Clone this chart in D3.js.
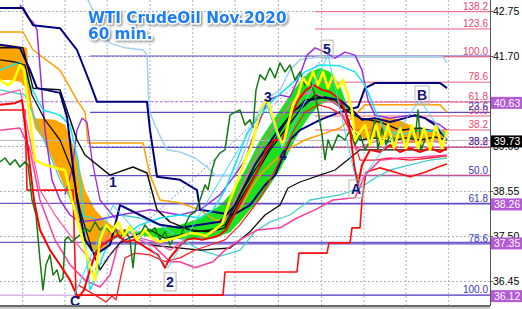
<!DOCTYPE html>
<html>
<head>
<meta charset="utf-8">
<script src="https://cdn.jsdelivr.net/npm/d3@7"></script>
<style>
  body { margin: 0; background: #fff; }
  svg { display: block; font-family: "Liberation Sans", Arial, sans-serif; }
</style>
</head>
<body>
<div id="root"></div>
<script>
// Chart data: bar index (60 min bars) and price.
const priceTicks = [42.75, 41.70, 40.65, 39.60, 38.55, 37.50, 36.45];
const gridBars = [5.7, 16.25, 26.8, 37.5, 48.2, 58.75, 69.6, 80.4, 91, 101.5, 112.1];

// Ichimoku cloud: senkou span A / span B at the same bars.
const cloudBars = [0, 2.5, 5, 6.75, 7.75, 8.75, 11.25, 13.75, 16.25, 18.75, 21.25, 23.75, 26.25, 28.75, 31.25, 33.75, 36.25, 40, 43.75, 47.5, 50, 52.5, 55, 57.5, 60, 62.5, 65, 67.5, 70, 72.5, 75, 77.5, 80, 82.5, 85, 87, 88.75, 91.25, 95, 98.75, 102.5, 105, 108.75, 111.25];
const spanA = [41.14, 41.14, 41.10, 40.95, 40.44, 40.02, 39.70, 39.16, 38.62, 38.06, 37.36, 37.13, 37.17, 37.45, 37.50, 37.59, 37.64, 37.69, 37.73, 37.83, 37.92, 38.06, 38.22, 38.46, 38.81, 39.27, 39.74, 40.09, 40.44, 40.79, 41.10, 41.33, 41.42, 41.33, 41.02, 40.49, 39.97, 39.74, 39.79, 39.74, 39.67, 39.67, 39.70, 39.74];
const spanB = [41.96, 41.96, 41.93, 41.89, 40.67, 40.25, 40.23, 40.21, 40.09, 39.51, 38.57, 38.11, 37.87, 37.69, 37.59, 37.55, 37.50, 37.45, 37.45, 37.41, 37.41, 37.45, 37.50, 37.59, 37.83, 38.11, 38.34, 38.69, 39.04, 39.51, 39.97, 40.32, 40.56, 40.67, 40.56, 40.44, 40.28, 40.25, 40.25, 40.25, 40.09, 39.97, 39.97, 39.97];

const chikou = [[0,39.23],[1.25,39.32],[2.5,39.16],[3.75,39.28],[5,39.11],[6.25,39.23],[7,39.16],[8,38.34],[9,37.99],[10,36.94],[10.75,36.24],[11.5,36.83],[12.5,37.06],[13.25,36.59],[14.25,36.71],[15,36.43],[15.75,36.52],[16.25,37.41],[17,37.48],[18,37.36],[19,37.45],[20,37.52],[21.25,37.69],[22.5,37.60],[23.75,37.83],[25,37.64],[26.25,37.73],[27.5,37.60],[28.75,37.69],[30,37.45],[31.25,37.64],[32.5,37.41],[33.25,36.76],[34,37.41],[35,37.52],[36.25,37.76],[37.5,37.60],[38.75,37.69],[40,37.41],[41.25,37.60],[42.5,37.29],[43.75,37.52],[45,37.45],[46.25,37.76],[47.5,37.99],[48.75,38.06],[50,38.34],[51.25,38.69],[52,38.58],[53,39.04],[53.75,39.28],[55,39.44],[56.25,39.51],[57.5,40.32],[58.75,40.39],[60,40.44],[61.25,40.09],[62.5,40.21],[63.25,40.04],[64,40.91],[65,41.26],[66.25,41.14],[67.5,41.42],[68.75,41.19],[70,41.54],[71.25,41.33],[72.5,41.49],[73.75,41.14],[75,41.33],[76.25,41.02],[77.5,41.14],[78.75,40.79],[79.5,40.44],[80.5,39.86],[81.25,39.28],[82,39.74],[83,39.51],[84.5,39.86],[86.25,39.74],[87.5,39.98],[88.75,39.62],[90,39.86],[91.25,39.51],[92.5,39.70],[93.75,40.21],[94.5,39.51],[95.5,40.02],[96.5,39.62],[97.5,39.86],[98.75,39.74],[100,39.90],[101.25,39.62],[102.5,39.86],[103.75,39.74],[104.5,40.44],[105.25,39.51],[106.25,39.74]];

const yellowLine = [[0,41.14],[2,41.02],[3.5,41.14],[5,41.49],[6,41.37],[7.5,40.21],[8.75,39.27],[11.25,39.16],[13.75,39.09],[16.25,39.04],[18,38.34],[20,37.64],[22,36.94],[23.75,36.47],[25,37.41],[26.5,37.76],[28,37.60],[29.5,37.83],[31,37.50],[32.5,37.73],[34.25,37.41],[36.25,37.64],[38,37.45],[40,37.36],[42,37.41],[43.75,37.45],[45.5,37.50],[47.5,37.57],[49.5,37.55],[51.5,37.50],[53.5,37.64],[55.5,37.78],[57.5,38.34],[59.5,38.81],[61.25,39.27],[63,39.62],[64.5,40.21],[65.75,40.56],[67,40.67],[68,40.32],[69.5,39.86],[70.75,39.62],[72,40.09],[73.25,40.56],[74.5,40.79],[75.75,41.19],[77,41.02],[78.25,41.33],[79.5,41.02],[80.75,41.33],[82,40.95],[83.25,41.26],[84.5,40.95],[85.75,41.14],[87,40.79],[88,40.44],[88.75,39.74],[89.5,39.86],[91.25,40.09],[92.5,39.62],[94,40.09],[95.5,39.62],[97,40.09],[98.5,39.55],[100,40.02],[101.5,39.55],[103,40.09],[104.5,39.55],[106,40.02],[107.5,39.51],[109,40.09],[110.5,39.55],[111.75,39.97]];

const redFast = [[0,40.56],[3.75,40.60],[5.5,40.67],[7,39.51],[8.5,38.34],[10,37.64],[12.5,37.17],[15,36.83],[17.5,36.47],[19.5,36.05],[21,36.24],[22.5,36.71],[24,37.13],[25.5,37.29],[27.5,37.41],[29.5,37.52],[31.5,37.36],[33.5,37.41],[35.5,37.29],[37.5,37.17],[39.5,37.06],[41.25,36.76],[42.5,36.99],[44.5,37.22],[46.5,37.41],[48.5,37.45],[50.5,37.41],[52.5,37.45],[54.5,37.50],[56.5,37.64],[58.5,37.99],[60.5,38.34],[62.5,38.69],[64.5,39.04],[66.5,39.51],[68.5,39.74],[70.5,39.74],[72.5,40.21],[74.5,40.67],[76.5,40.91],[78.5,41.02],[80.5,40.91],[82.5,40.86],[84.5,40.72],[86.25,40.44],[87.5,39.97],[88.5,39.16],[89.5,38.69],[90.5,39.16],[92.5,39.51],[95,39.46],[97.5,39.62],[100,39.46],[102.5,39.55],[105,39.46],[107.5,39.55],[110,39.46],[111.75,39.55]];

const redBand = [[19.5,36.36],[22.5,36.19],[25,36.05],[26.5,35.96],[28,36.10],[29,36.01],[30,36.47],[31.25,36.99],[33.75,37.10],[37.5,37.06],[41.25,36.90],[45,36.99],[48.75,37.17],[52.5,37.29],[56.25,37.41],[60,37.76],[63.75,38.22],[66.25,38.57],[68.75,39.04],[71.25,39.51],[73.75,40.02],[76.25,40.39],[79.5,40.56],[82.5,40.49],[85.5,40.32],[88,39.86],[90,39.27],[93.75,39.27],[97.5,39.32],[102.5,39.27],[107.5,39.32],[111.75,39.37]];

const redLow = [[0,40.44],[6.25,40.44],[6.75,38.57],[18.25,38.57],[19,36.12],[55.75,36.12],[56.25,36.66],[74.25,36.66],[74.75,37.10],[81.75,37.10],[82.25,37.34],[87.5,37.34],[88,37.69],[90,37.69],[90.5,38.34],[91.5,38.99],[95,39.09],[98.75,38.99],[102.5,38.88],[106.25,38.99],[110,39.13],[111.75,39.18]];

const pinkSlow = [[0,39.97],[5,40.02],[7.5,39.51],[10,38.34],[13.75,37.41],[17.5,36.83],[21.25,36.47],[25,36.31],[27.5,36.59],[29.5,37.29],[31.5,37.52],[35,37.41],[38.75,37.24],[42.5,36.90],[45,36.90],[48.75,36.76],[53.25,36.90],[56.25,37.17],[60,37.41],[64.25,37.64],[70,37.69],[74.25,37.92],[78.75,38.11],[83.25,38.34],[88.75,38.39],[91.25,38.92],[95,39.27],[100,39.32],[105,39.34],[111.75,39.39]];

const pinkFast = [[0,40.79],[5,40.91],[7.5,39.74],[10,38.57],[13.75,37.99],[17.5,37.52],[20.5,37.17],[23,36.90],[25,37.17],[27.5,37.60],[31.25,37.64],[35,37.45],[38.75,37.36],[42.5,37.17],[46.25,37.41],[50,37.45],[53.75,37.60],[57,37.99],[60,38.57],[63,39.16],[66.25,39.74],[69.5,40.21],[72.5,40.56],[75,40.79],[78,40.86],[81.25,40.72],[84.5,40.56],[87,40.09],[89,39.51],[91.25,39.62],[95,39.74],[100,39.67],[105,39.74],[111.75,39.67]];

const cyanLine = [[0,41.37],[5,41.56],[7.5,41.02],[10.75,40.44],[15,40.32],[17.5,40.09],[19.5,39.27],[20.75,38.11],[21.75,36.94],[22.5,36.24],[23.75,36.47],[25.5,36.99],[27.5,37.41],[31.25,37.52],[35,37.76],[40,37.92],[45,37.99],[50,37.92],[53.25,38.11],[56.25,38.57],[59.25,39.27],[61.75,39.90],[65,40.32],[68.25,40.67],[72.5,41.02],[76.25,41.33],[80,41.49],[85,41.47],[88.75,41.33],[91.25,41.02],[93.75,40.44],[96.25,39.97],[100,39.86],[105,39.97],[110,39.93],[111.75,39.86]];

const turquoise = [[0,40.91],[6.25,40.79],[10,39.97],[15,38.81],[20,37.99],[25,37.87],[30,37.99],[35,37.92],[40,37.76],[45,37.45],[50,37.17],[55,37.03],[60,37.17],[63.75,37.60],[67.5,37.83],[72.5,37.99],[77.5,38.34],[85,38.46],[90,38.62],[93.75,38.85],[97.5,39.04],[102.5,39.16],[107.5,39.27],[111.75,39.32]];

const lightBlue = [[20,43.24],[22,43.01],[25,42.42],[27.5,42.00],[31.25,41.89],[35.75,41.84],[36.75,41.72],[37.25,40.44],[38.75,40.09],[40.5,39.74],[41.75,39.51],[45,39.46],[48.75,39.32],[51.75,39.11],[53.75,38.92],[58.75,38.92],[61.25,39.51],[63.75,40.21],[66.25,40.67],[70,40.91],[72.5,41.37],[75,41.61],[80,41.68],[110.75,41.68],[111.75,41.54]];

const navyUpper = [[0,42.82],[5.75,42.82],[8.25,42.42],[15,42.35],[19.25,41.84],[22.5,41.07],[24.25,40.63],[36.75,40.63],[37.5,39.97],[39.25,38.88],[45,38.81],[49.25,38.57],[50,38.11],[58.25,37.99],[62.5,38.22],[66.25,38.69],[68.75,38.92],[72.5,39.74],[75,39.97],[80,40.21],[85,40.39],[89.5,40.51],[91.25,40.95],[93.75,41.07],[110,41.07],[111.75,40.95]];

const navyInner = [[0,41.96],[5,41.89],[7.5,41.37],[9.25,40.95],[15,40.84],[16.75,40.28],[19.25,38.34],[21.25,37.41],[23.75,37.06],[27.5,37.29],[30,38.22],[35,37.99],[40,37.76],[45,37.69],[50,37.76],[55,37.83],[58.75,38.22],[61.25,38.69],[63.75,39.16],[66.25,39.51],[68.75,39.86],[70.75,40.09],[73.75,40.44],[77.5,40.67],[81.25,40.74],[85,40.67],[88,40.44],[90.5,40.21],[93.75,40.25],[97.5,40.16],[101.25,40.25],[103.75,40.32],[106.25,40.25],[108.75,40.09],[111.75,39.74]];

const blackSlow = [[0,41.89],[5.75,41.89],[8.25,40.95],[15,40.91],[19.25,39.74],[21.25,39.39],[27.5,38.92],[33.25,39.11],[36.75,38.97],[39.25,38.11],[42.5,37.83],[47.5,37.64],[52.5,37.60],[56.25,37.69],[60,38.34],[63.75,38.92],[67.5,39.51],[71.25,39.97],[75,40.44],[78.75,40.79],[82.5,40.67],[86.25,40.44],[90,40.25],[95,40.16],[100,39.97],[105,40.02],[111.75,39.86]];

const blackFast = [[0,41.61],[3.75,41.56],[6.25,41.49],[8,40.79],[11.25,40.21],[15,39.74],[18,39.04],[20,38.11],[23,37.17],[25,36.71],[27.5,37.06],[30,37.34],[33.75,37.52],[37.5,37.64],[41.25,37.45],[45,37.52],[48.75,37.60],[52.5,37.64],[56.25,37.76],[60,38.46],[63.75,39.04],[66.25,39.39],[68.75,39.74],[72.5,40.32],[76.25,40.67],[80,40.74],[83.75,40.67],[86.25,40.44],[87.5,40.09],[90,39.74],[93.75,39.79],[97.5,39.70],[101.25,39.79],[105,39.74],[108.75,39.81],[111.75,39.74]];

const blackLow = [[37.5,37.29],[50,37.17],[57.5,37.22],[62.5,37.60],[66.25,37.99],[70,38.22],[72,38.62],[75,38.76],[80,38.92],[83.75,39.04],[87.5,39.32],[90,39.51],[111.75,39.51]];

const purpleLine = [[5,42.89],[7,42.59],[8.25,42.49],[9.25,42.31],[10.25,41.14],[11.25,39.97],[13,38.81],[15,38.34],[17.5,37.99],[20,37.83],[23.75,37.87],[30,37.99],[37.5,38.11],[45,37.99],[50,38.11],[55,38.46],[58.75,38.92],[61.25,39.27],[63,39.74],[65,40.21],[67,40.67],[70,40.79],[72.5,40.74],[75,41.26],[76.75,41.72],[78.75,41.89],[81.25,41.79],[83.75,41.65],[86.25,41.79],[88.75,41.72],[90.5,41.37],[92,40.67],[93.75,40.32],[97.5,40.25],[102.5,40.32],[106.25,40.25],[110,40.09],[111.75,39.97]];

const purpleHump = [[16.25,38.46],[18,39.04],[19.25,39.97],[20.5,40.25],[21.75,40.16],[23,39.27],[25,38.34],[28.75,37.92]];

const orangeLine = [[0,42.26],[5.75,42.26],[8.25,41.84],[15,41.37],[19.25,40.67],[21.25,40.39],[22,39.67],[35.75,39.67],[37.5,38.92],[40,38.34],[45,38.27],[50,38.11],[53.75,37.87],[57.5,37.87],[60,38.11],[62.5,38.57],[65,38.92],[68.75,39.27],[72.5,39.55],[76.25,39.74],[80,39.86],[85,40.02],[88.75,40.32],[91.25,40.56],[110,40.56],[111.25,40.44],[111.75,40.39]];

// Elliott wave zigzag and labels
const waveNames = ['C', '1', '2', '3', '4', '5', 'A', 'B'];
const wavePoints = [[18.25,36.05],[28.25,38.22],[42,36.76],[66.5,40.60],[70.5,39.55],[82,41.72],[89.25,38.69],[105,40.67],[111.75,39.74]];
const waveLabelAt = [[18.75,35.98],[28.25,38.76],[42.5,36.43],[67,40.74],[70.75,39.39],[81.75,41.86],[89,38.60],[105.5,40.79]];
const waveBoxed = ['2', '5', 'A', 'B'];
const trendLine = [[20,36.40],[82.5,41.77]];

// Fibonacci retracements: two sets
const fibRatios = [138.2, 123.6, 100.0, 78.6, 61.8, 50.0, 38.2, 23.6];
const fibUpper = { p100: 41.68, p0: 38.92, fromBar: 78.75 };
const fibLowerRatios = [23.6, 38.2, 50.0, 61.8, 78.6, 100.0];
const fibLower = { p0: 41.70, p100: 36.12, fromBar: 22.5 };

// Price markers on the right scale
const markerPrices = [40.63, 39.73, 38.26, 37.35, 36.12];
const markerFills = ['#b45ad6', '#000000', '#b45ad6', '#b45ad6', '#b45ad6'];
const currentPrice = 39.73;

const width = 522, height = 309;
const plotRight = 490, plotBottom = 306;

const x = d3.scaleLinear().domain([0, 122.5]).range([0, plotRight]);
const y = d3.scaleLinear().domain([36.45, 42.75]).range([281, 11]);

const svg = d3.select('#root').append('svg')
  .attr('width', width)
  .attr('height', height);

const defs = svg.append('defs');
defs.append('clipPath').attr('id', 'plot')
  .append('rect').attr('x', 0).attr('y', 0).attr('width', plotRight).attr('height', plotBottom);
const shadow = defs.append('filter').attr('id', 'shadow').attr('x', '-10%').attr('y', '-30%').attr('width', '130%').attr('height', '170%');
shadow.append('feDropShadow').attr('dx', 1.5).attr('dy', 1.5).attr('stdDeviation', 1.2).attr('flood-color', '#666').attr('flood-opacity', 0.7);

const plot = svg.append('g').attr('clip-path', 'url(#plot)');

// Grid
plot.selectAll('.vgrid').data(gridBars).enter().append('line')
  .attr('x1', d => x(d)).attr('x2', d => x(d))
  .attr('y1', 0).attr('y2', plotBottom)
  .attr('stroke', '#a9b1c2').attr('stroke-dasharray', '2,2');
plot.selectAll('.hgrid').data(priceTicks).enter().append('line')
  .attr('x1', 0).attr('x2', plotRight)
  .attr('y1', d => y(d) + 0.5).attr('y2', d => y(d) + 0.5)
  .attr('stroke', '#a9b1c2').attr('stroke-dasharray', '2,2');

// Cloud
const cloud = cloudBars.map((b, i) => ({ b: b, a: spanA[i], s: spanB[i] }));
plot.append('path').datum(cloud)
  .attr('fill', '#ffa500')
  .attr('d', d3.area().x(d => x(d.b)).y0(d => y(d.a)).y1(d => y(Math.max(d.a, d.s))));
plot.append('path').datum(cloud)
  .attr('fill', '#1ee01e')
  .attr('d', d3.area().x(d => x(d.b)).y0(d => y(d.s)).y1(d => y(Math.max(d.a, d.s))));

// Horizontal price lines across the chart
plot.append('line').attr('x1', 0).attr('x2', plotRight)
  .attr('y1', y(currentPrice)).attr('y2', y(currentPrice))
  .attr('stroke', '#b8b8b8');
plot.append('line').attr('x1', 0).attr('x2', plotRight)
  .attr('y1', y(40.63)).attr('y2', y(40.63))
  .attr('stroke', '#c77ee6').attr('stroke-dasharray', '3,2');
[38.26, 37.35].forEach(v => {
  plot.append('line').attr('x1', 0).attr('x2', plotRight)
    .attr('y1', y(v)).attr('y2', y(v))
    .attr('stroke', '#6e56c8').attr('stroke-width', 1.2);
});
plot.append('line').attr('x1', 0).attr('x2', plotRight)
  .attr('y1', y(36.12)).attr('y2', y(36.12))
  .attr('stroke', '#dcb2ee').attr('stroke-width', 1.5);

// Fibonacci lines
const upperLevel = r => fibUpper.p0 + (fibUpper.p100 - fibUpper.p0) * r / 100;
const lowerLevel = r => fibLower.p0 - (fibLower.p0 - fibLower.p100) * r / 100;

const fibG = plot.append('g');
fibG.selectAll('.fl').data(fibLowerRatios.concat([0])).enter().append('line')
  .attr('x1', x(fibLower.fromBar)).attr('x2', plotRight)
  .attr('y1', d => y(lowerLevel(d))).attr('y2', d => y(lowerLevel(d)))
  .attr('stroke', '#5b4cc6').attr('stroke-width', 1.2);
fibG.selectAll('.fu').data(fibRatios.concat([0])).enter().append('line')
  .attr('x1', x(fibUpper.fromBar)).attr('x2', plotRight)
  .attr('y1', d => y(upperLevel(d))).attr('y2', d => y(upperLevel(d)))
  .attr('stroke', '#ee5f7e');

// Indicator lines
const line = d3.line().x(d => x(d[0])).y(d => y(d[1]));
const lineStyles = [
  { data: lightBlue, color: '#9fd2ee', w: 1.5 },
  { data: turquoise, color: '#48cfd0', w: 1.3 },
  { data: orangeLine, color: '#ffa000', w: 1.5 },
  { data: purpleLine, color: '#9d2fd8', w: 1.5 },
  { data: purpleHump, color: '#9d2fd8', w: 1.3 },
  { data: navyUpper, color: '#00007e', w: 2 },
  { data: blackLow, color: '#111', w: 1.3 },
  { data: blackSlow, color: '#111', w: 1.5 },
  { data: redLow, color: '#ff1010', w: 1.6 },
  { data: redBand, color: '#ff2020', w: 1.3 },
  { data: pinkSlow, color: '#ff3d9a', w: 1.5 },
  { data: pinkFast, color: '#ff5fa8', w: 1.3 },
  { data: cyanLine, color: '#10e6f4', w: 1.5 },
  { data: navyInner, color: '#00007e', w: 2 },
  { data: blackFast, color: '#111', w: 1.3 },
  { data: chikou, color: '#137a13', w: 1.5 },
  { data: redFast, color: '#ff0000', w: 2 },
  { data: yellowLine, color: '#ffff00', w: 2.6 }
];
plot.selectAll('.ind').data(lineStyles).enter().append('path')
  .attr('fill', 'none')
  .attr('stroke', d => d.color)
  .attr('stroke-width', d => d.w)
  .attr('stroke-linejoin', 'round')
  .attr('d', d => line(d.data));

// Zigzag and trend line
plot.append('path').attr('fill', 'none')
  .attr('stroke', '#3fd6ff').attr('stroke-width', 1)
  .attr('d', line(wavePoints));
plot.append('path').attr('fill', 'none')
  .attr('stroke', '#8080f0').attr('stroke-dasharray', '2,2')
  .attr('d', line(trendLine));

// Fibonacci labels
const fibText = svg.append('g').style('font-size', '10px').attr('text-anchor', 'end');
fibText.selectAll('.ful').data(fibRatios).enter().append('text')
  .attr('x', 488).attr('y', d => y(upperLevel(d)) - 2)
  .attr('fill', '#e8456c')
  .text(d => d.toFixed(1));
fibText.selectAll('.fll').data(fibLowerRatios).enter().append('text')
  .attr('x', 488).attr('y', d => y(lowerLevel(d)) - 2)
  .attr('fill', '#3b35b4')
  .text(d => d.toFixed(1));

// Wave labels
const waveG = svg.append('g').style('font-size', '14px').style('font-weight', 'bold');
waveNames.forEach((name, i) => {
  const px = x(waveLabelAt[i][0]);
  const py = y(waveLabelAt[i][1]);
  const t = waveG.append('text')
    .attr('x', px).attr('y', py + 5)
    .attr('text-anchor', 'middle')
    .attr('fill', '#15157a')
    .text(name);
  if (waveBoxed.includes(name)) {
    const bb = t.node().getBBox();
    waveG.insert('rect', 'text')
      .attr('x', bb.x - 2).attr('y', bb.y - 1)
      .attr('width', bb.width + 4).attr('height', bb.height + 2)
      .attr('fill', 'none').attr('stroke', '#bdb8b0');
  }
});

// Right price scale
svg.append('line').attr('x1', plotRight + 0.5).attr('x2', plotRight + 0.5)
  .attr('y1', 0).attr('y2', plotBottom).attr('stroke', '#555');
const yAxis = d3.axisRight(y).tickValues(priceTicks).tickFormat(d3.format('.2f')).tickSize(3);
svg.append('g')
  .attr('transform', `translate(${plotRight}, 0)`)
  .call(yAxis)
  .call(g => g.select('.domain').remove())
  .call(g => g.selectAll('text').attr('x', 3).style('font-size', '10.5px').style('font-family', '"Liberation Sans", Arial, sans-serif').attr('fill', '#000'))
  .call(g => g.selectAll('line').attr('stroke', '#555'));

const markers = svg.append('g');
markerPrices.forEach((v, i) => {
  markers.append('rect')
    .attr('x', plotRight + 1).attr('y', y(v) - 5)
    .attr('width', width - plotRight - 1).attr('height', 12)
    .attr('fill', markerFills[i]);
  markers.append('text')
    .attr('x', plotRight + 4).attr('y', y(v) + 5)
    .attr('fill', '#fff').style('font-size', '10.5px')
    .text(v.toFixed(2));
});

// Bottom time scale strip
svg.append('rect').attr('x', 0).attr('y', plotBottom).attr('width', plotRight).attr('height', height - plotBottom).attr('fill', '#c8c8c8');
svg.append('line').attr('x1', 0).attr('x2', plotRight).attr('y1', plotBottom).attr('y2', plotBottom).attr('stroke', '#6a6a6a').attr('stroke-width', 2);

// Title
const title = svg.append('g')
  .style('font-family', '"DejaVu Sans", Verdana, sans-serif')
  .style('font-weight', 'bold')
  .style('font-size', '15.3px')
  .attr('filter', 'url(#shadow)');
['WTI CrudeOil Nov.2020', '60 min.'].forEach((s, i) => {
  title.append('text')
    .attr('x', 88).attr('y', 23 + i * 16)
    .attr('fill', '#1f7ff2')
    .attr('stroke', '#fff').attr('stroke-width', 3).attr('paint-order', 'stroke')
    .attr('stroke-linejoin', 'round')
    .text(s);
});
</script>
</body>
</html>
